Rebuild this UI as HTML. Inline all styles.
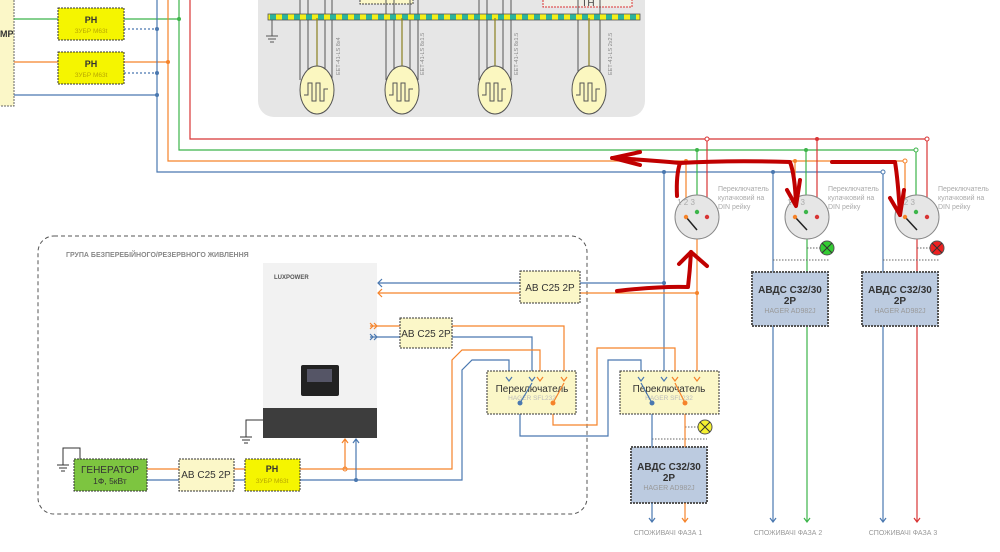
<!DOCTYPE html>
<html><head><meta charset="utf-8"><style>
body{margin:0;background:#fff;width:1000px;height:547px;overflow:hidden}
text{font-family:"Liberation Sans",sans-serif}
</style></head><body>
<svg width="1000" height="547" viewBox="0 0 1000 547" xmlns="http://www.w3.org/2000/svg">
<defs>
<pattern id="bus" width="12" height="6" patternUnits="userSpaceOnUse"><rect width="6" height="6" fill="#f2ef1a"/><rect x="6" width="6" height="6" fill="#2bb39a"/></pattern>
</defs>
<!-- top panel -->
<rect x="258" y="-20" width="387" height="137" rx="16" fill="#e6e6e6"/>
<rect x="360" y="-5" width="53" height="9" fill="#fbf7c8" stroke="#444" stroke-dasharray="2,1"/>
<rect x="543" y="-5" width="89" height="12" fill="#f0f0e8" stroke="#d33" stroke-dasharray="2,1"/>
<text x="588" y="6" font-size="10" text-anchor="middle" fill="#444">ТН</text>
<g stroke="#555" stroke-width="1" fill="none">
<path d="M300 0V80M308 0V80M325 0V80M332 0V80"/>
<path d="M386 0V80M394 0V80M410 0V80M418 0V80"/>
<path d="M479 0V80M487 0V80M503 0V80M511 0V80"/>
<path d="M578 0V80M600 0V80"/>
<path d="M272 20V36M266 36H278M268 39H276M270 42H274"/>
</g>
<rect x="268" y="14" width="372" height="6" fill="url(#bus)" stroke="#555" stroke-width="0.8"/>
<g stroke="#8a8020" stroke-width="1.2"><path d="M317 18V80M402 18V80M495 18V80M589 18V80"/></g>
<g fill="#fbf7c0" stroke="#555">
<ellipse cx="317" cy="90" rx="17" ry="24"/><ellipse cx="402" cy="90" rx="17" ry="24"/><ellipse cx="495" cy="90" rx="17" ry="24"/><ellipse cx="589" cy="90" rx="17" ry="24"/>
</g>
<g fill="none" stroke="#555" stroke-width="1">
<path d="M304 95h4v-12h4v18h4v-18h4v18h4v-12h4"/>
<path d="M389 95h4v-12h4v18h4v-18h4v18h4v-12h4"/>
<path d="M482 95h4v-12h4v18h4v-18h4v18h4v-12h4"/>
<path d="M576 95h4v-12h4v18h4v-18h4v18h4v-12h4"/>
</g>
<g font-size="5.5" fill="#888"><text transform="translate(340,75) rotate(-90)">ЕЕТ-41-LS 8х4</text><text transform="translate(424,75) rotate(-90)">ЕЕТ-41-LS 8х1.5</text><text transform="translate(518,75) rotate(-90)">ЕЕТ-41-LS 8х1.5</text><text transform="translate(612,75) rotate(-90)">ЕЕТ-41-LS 2х2.5</text></g>
<!-- left top -->
<rect x="-5" y="-5" width="19" height="111" fill="#fbf7c8" stroke="#666" stroke-dasharray="2,1"/>
<text x="0" y="37" font-size="9" font-weight="bold" fill="#333">МР</text>
<g stroke-width="1.2" fill="none">
<path d="M14 19H179" stroke="#3cb54a"/><path d="M14 62H168" stroke="#f5832a"/><path d="M14 95H157" stroke="#4a78b0"/>
<path d="M124 29H157M124 73H157" stroke="#4a78b0" stroke-dasharray="2,2"/>
<path d="M157 0V172H883V522" stroke="#4a78b0"/>
<path d="M168 0V161H905" stroke="#f5832a"/>
<path d="M179 0V150H916" stroke="#3cb54a"/>
<path d="M190 0V139H927" stroke="#d83535"/>
</g>
<g fill="#f5f500" stroke="#333" stroke-dasharray="2,1"><rect x="58" y="8" width="66" height="32"/><rect x="58" y="52" width="66" height="32"/></g>
<g text-anchor="middle"><text x="91" y="23" font-size="9" font-weight="bold" fill="#333">РН</text><text x="91" y="33" font-size="6.5" fill="#b8a800">ЗУБР М63t</text><text x="91" y="67" font-size="9" font-weight="bold" fill="#333">РН</text><text x="91" y="77" font-size="6.5" fill="#b8a800">ЗУБР М63t</text></g>
<g fill="#4a78b0"><circle cx="157" cy="29" r="2"/><circle cx="157" cy="73" r="2"/><circle cx="157" cy="95" r="2"/></g>
<circle cx="179" cy="19" r="2" fill="#3cb54a"/><circle cx="168" cy="62" r="2" fill="#f5832a"/>
<!-- switches -->
<g stroke-width="1.2" fill="none">
<path d="M707 139V215M817 139V215M927 139V215" stroke="#d83535"/>
<path d="M697 150V215M806 150V215M916 150V215" stroke="#3cb54a"/>
<path d="M686 161V217M795 161V217M905 161V217" stroke="#f5832a"/>
<path d="M664 172V390M773 172V522" stroke="#4a78b0"/>
<path d="M807 239V522" stroke="#3cb54a"/>
<path d="M917 239V522" stroke="#d83535"/>
<path d="M697 239V380" stroke="#f5832a"/>
</g>
<g fill="#fff"><circle cx="707" cy="139" r="2" stroke="#d83535"/><circle cx="817" cy="139" r="2" fill="#d83535"/><circle cx="927" cy="139" r="2" stroke="#d83535"/>
<circle cx="697" cy="150" r="2" fill="#3cb54a"/><circle cx="806" cy="150" r="2" fill="#3cb54a"/><circle cx="916" cy="150" r="2" stroke="#3cb54a"/>
<circle cx="686" cy="161" r="2" fill="#f5832a"/><circle cx="795" cy="161" r="2" fill="#f5832a"/><circle cx="905" cy="161" r="2" stroke="#f5832a"/>
<circle cx="664" cy="172" r="2" fill="#4a78b0"/><circle cx="773" cy="172" r="2" fill="#4a78b0"/><circle cx="883" cy="172" r="2" stroke="#4a78b0"/></g>
<g fill="#e6e6e6" stroke="#888"><circle cx="697" cy="217" r="22"/><circle cx="807" cy="217" r="22"/><circle cx="917" cy="217" r="22"/></g>
<g font-size="8" fill="#aaa" text-anchor="middle">
<text x="686" y="205">1 2 3</text><text x="796" y="205">1 2 3</text><text x="906" y="205">1 2 3</text>
</g>
<g stroke="#222" stroke-width="1.5"><path d="M686 217L697 230M795 217L807 230M905 217L917 230"/></g>
<g><circle cx="686" cy="217" r="2.2" fill="#f5832a"/><circle cx="697" cy="212" r="2.2" fill="#3cb54a"/><circle cx="707" cy="217" r="2.2" fill="#d83535"/>
<circle cx="795" cy="217" r="2.2" fill="#f5832a"/><circle cx="806" cy="212" r="2.2" fill="#3cb54a"/><circle cx="817" cy="217" r="2.2" fill="#d83535"/>
<circle cx="905" cy="217" r="2.2" fill="#f5832a"/><circle cx="916" cy="212" r="2.2" fill="#3cb54a"/><circle cx="927" cy="217" r="2.2" fill="#d83535"/></g>
<g font-size="7" fill="#aaa"><text x="718" y="191">Переключатель</text><text x="718" y="200">кулачковий на</text><text x="718" y="209">DIN рейку</text>
<text x="828" y="191">Переключатель</text><text x="828" y="200">кулачковий на</text><text x="828" y="209">DIN рейку</text>
<text x="938" y="191">Переключатель</text><text x="938" y="200">кулачковий на</text><text x="938" y="209">DIN рейку</text></g>
<g stroke="#666" stroke-dasharray="1.5,1.5" fill="none"><path d="M807 248H820M773 260H829M917 248H930M883 260H939M685 427H698M652 439H707"/></g>
<g stroke="#555"><circle cx="827" cy="248" r="7" fill="#33cc33"/><circle cx="937" cy="248" r="7" fill="#ee2020"/><circle cx="705" cy="427" r="7" fill="#f5f030"/></g>
<g stroke="#333" stroke-width="1"><path d="M822 243l10 10M832 243l-10 10M932 243l10 10M942 243l-10 10M700 422l10 10M710 422l-10 10"/></g>
<!-- ABDS boxes -->
<g fill="#bccbe0" stroke="#555" stroke-width="2" stroke-dasharray="2,1"><rect x="752" y="272" width="76" height="54"/><rect x="862" y="272" width="76" height="54"/><rect x="631" y="447" width="76" height="56"/></g>
<g text-anchor="middle" font-weight="bold" font-size="10" fill="#333">
<text x="790" y="293">АВДС С32/30</text><text x="790" y="304">2P</text><text x="900" y="293">АВДС С32/30</text><text x="900" y="304">2P</text><text x="669" y="470">АВДС С32/30</text><text x="669" y="481">2P</text></g>
<g text-anchor="middle" font-size="7" fill="#999"><text x="790" y="313">HAGER AD982J</text><text x="900" y="313">HAGER AD982J</text><text x="669" y="490">HAGER AD982J</text></g>
<!-- bottom outputs -->
<g stroke-width="1.2" fill="none">
<path d="M652 503V522" stroke="#4a78b0"/><path d="M685 503V522" stroke="#f5832a"/>
<path d="M649 518l3 4 3-4M770 518l3 4 3-4M880 518l3 4 3-4" stroke="#4a78b0"/>
<path d="M682 518l3 4 3-4" stroke="#f5832a"/><path d="M804 518l3 4 3-4" stroke="#3cb54a"/><path d="M914 518l3 4 3-4" stroke="#d83535"/>
</g>
<g font-size="7" fill="#999" text-anchor="middle"><text x="668" y="535">СПОЖИВАЧІ ФАЗА 1</text><text x="788" y="535">СПОЖИВАЧІ ФАЗА 2</text><text x="903" y="535">СПОЖИВАЧІ ФАЗА 3</text></g>
<!-- group -->
<rect x="38" y="236" width="549" height="278" rx="16" fill="none" stroke="#555" stroke-dasharray="4,3"/>
<text x="66" y="257" font-size="7" fill="#888" font-weight="bold">ГРУПА БЕЗПЕРЕБІЙНОГО/РЕЗЕРВНОГО ЖИВЛЕННЯ</text>
<!-- inverter -->
<rect x="263" y="263" width="114" height="146" fill="#f2f2f2"/><rect x="263" y="408" width="114" height="30" fill="#3d3d3d"/>
<text x="274" y="279" font-size="6" fill="#555" font-weight="bold">LUXPOWER</text>
<rect x="301" y="365" width="38" height="31" rx="2" fill="#222"/><rect x="307" y="369" width="25" height="13" fill="#556"/>
<path d="M263 420H246V437M240 437H252M242 440H250M244 443H248" stroke="#333" fill="none"/>
<!-- wires bottom group -->
<g stroke-width="1.2" fill="none">
<path d="M378 283H664" stroke="#4a78b0"/><path d="M382 279l-4 4 4 4" stroke="#4a78b0"/>
<path d="M378 293H697" stroke="#f5832a"/><path d="M382 289l-4 4 4 4" stroke="#f5832a"/>
<path d="M370 326H564V381" stroke="#f5832a"/><path d="M370 323l3 3-3 3M374 323l3 3-3 3" stroke="#f5832a"/>
<path d="M370 337H532V381" stroke="#4a78b0"/><path d="M370 334l3 3-3 3M374 334l3 3-3 3" stroke="#4a78b0"/>
<path d="M147 469H345V440M345 469H452V360L462 350H540V381" stroke="#f5832a"/>
<path d="M147 480H356V440M356 480H462V370L472 360H509V381" stroke="#4a78b0"/>
<path d="M342 443l3-4 3 4" stroke="#f5832a"/><path d="M353 443l3-4 3 4" stroke="#4a78b0"/>
<path d="M520 403V436H608V360H641V381" stroke="#4a78b0"/>
<path d="M553 403V425H597V348H675V381" stroke="#f5832a"/>
<path d="M652 403V447" stroke="#4a78b0"/><path d="M685 403V447" stroke="#f5832a"/>
</g>
<circle cx="345" cy="469" r="2" fill="none" stroke="#f5832a"/><circle cx="356" cy="480" r="2" fill="#4a78b0"/>
<circle cx="664" cy="283" r="2" fill="#4a78b0"/><circle cx="697" cy="293" r="2" fill="#f5832a"/>
<path d="M80 459V448H63V465M57 465H69M59 468H67M61 471H65" stroke="#333" fill="none"/>
<rect x="74" y="459" width="73" height="32" fill="#7dc540" stroke="#333" stroke-dasharray="2,1"/>
<text x="110" y="473" font-size="10" text-anchor="middle" fill="#333">ГЕНЕРАТОР</text><text x="110" y="484" font-size="8.5" text-anchor="middle" fill="#333">1Ф, 5кВт</text>
<g fill="#fbf7c8" stroke="#333" stroke-dasharray="2,1"><rect x="179" y="459" width="55" height="32"/><rect x="400" y="318" width="52" height="30"/><rect x="520" y="271" width="60" height="32"/><rect x="487" y="371" width="89" height="43"/><rect x="620" y="371" width="99" height="43"/></g>
<rect x="245" y="459" width="55" height="32" fill="#f5f500" stroke="#333" stroke-dasharray="2,1"/>
<g font-size="10" text-anchor="middle" fill="#333"><text x="206" y="478">АВ С25 2Р</text><text x="426" y="337">АВ С25 2Р</text><text x="550" y="291">АВ С25 2Р</text>
<text x="532" y="392">Переключатель</text><text x="669" y="392">Переключатель</text>
<text x="272" y="472" font-size="9" font-weight="bold">РН</text></g>
<g font-size="6.5" text-anchor="middle" fill="#bbb"><text x="532" y="400">HAGER SFL232</text><text x="669" y="400">HAGER SFL232</text><text x="272" y="483" fill="#b8a800">ЗУБР М63t</text></g>
<g stroke-width="1.2" fill="none">
<path d="M506 377l3 4 3-4M529 377l3 4 3-4M638 377l3 4 3-4M661 377l3 4 3-4" stroke="#4a78b0"/>
<path d="M537 377l3 4 3-4M561 377l3 4 3-4M672 377l3 4 3-4M694 377l3 4 3-4" stroke="#f5832a"/>
<path d="M520 403L532 383M641 383L652 403" stroke="#4a78b0"/><path d="M553 403L564 383M675 383L685 403" stroke="#f5832a"/>
</g>
<circle cx="520" cy="403" r="2.5" fill="#4a78b0"/><circle cx="553" cy="403" r="2.5" fill="#f5832a"/><circle cx="652" cy="403" r="2.5" fill="#4a78b0"/><circle cx="685" cy="403" r="2.5" fill="#f5832a"/>
<!-- hand-drawn red arrows -->
<g stroke="#c00000" stroke-width="4" fill="none" stroke-linecap="round" stroke-linejoin="round">
<path d="M612 158Q650 160 680 163Q730 160 790 162Q795 175 796 205"/>
<path d="M640 152L613 158L640 165"/>
<path d="M677 196Q676 175 680 163"/>
<path d="M787 190L796 206L800 180"/>
<path d="M832 162H895Q898 180 900 215"/>
<path d="M890 198L900 215L904 190"/>
<path d="M617 291Q660 286 688 287Q690 270 691 252"/>
<path d="M679 264L691 252L707 266"/>
</g>
</svg>
</body></html>
